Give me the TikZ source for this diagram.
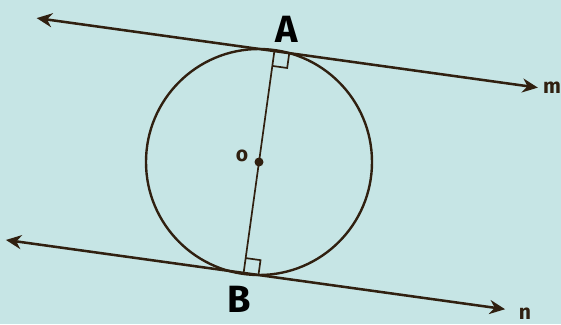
\documentclass[tikz,border=0pt]{standalone}
\usepackage{fontspec}
\setsansfont{Fira Sans}
\usepackage{xcolor}
\definecolor{colBack}{RGB}{198,229,229}
\colorlet{colInk}{black!75!brown}
\usetikzlibrary{arrows.meta, calc}

\begin{document}
\begin{tikzpicture}[x=0.025cm, y=-0.025cm,
		tline/.style={line width=1.8pt, colInk,
			{Stealth[length=11pt, width=10pt]}-{Stealth[length=11pt, width=10pt]}},
		circ/.style={line width=1.7pt, colInk},
		rmark/.style={line width=1.2pt, colInk},
		ptlab/.style={font=\sffamily\bfseries\fontsize{27}{27}\selectfont, text=black},
		lnlab/.style={font=\sffamily\bfseries\fontsize{15}{15}\selectfont, text=colInk},
	]
	% ===== Background and frame =====
	\fill[colBack] (0,0) rectangle (561,324);
	\useasboundingbox (0,0) rectangle (561,324);

	% ===== Circle, centre and diameter =====
	\coordinate (O) at (259,162);
	\coordinate (A) at ($(O)+(-82.1:112)$);
	\coordinate (B) at ($(O)+(97.9:112)$);
	\draw[circ] (O) circle[radius=113];
	\draw[circ, line width=1.2pt] (A) -- (B);
	\fill[colInk] (O) circle[radius=4.5];

	% ===== Tangent lines m and n =====
	\coordinate (mL) at ($(A)+(187.9:240)$);
	\coordinate (mR) at ($(A)+(7.9:266)$);
	\coordinate (nL) at ($(B)+(187.9:240)$);
	\coordinate (nR) at ($(B)+(7.9:264)$);
	\draw[tline] (mL) -- (mR);
	\draw[tline] (nL) -- (nR);

	% right angle marks at the points of contact
	\draw[rmark] ($(A)+(7.9:15)$) -- ++(97.9:15) -- ++(187.9:15);
	\draw[rmark] ($(B)+(7.9:15)$) -- ++(-82.1:15) -- ++(187.9:15);

	% ===== Labels =====
	\node[ptlab] (labA) at (287,29) {A};
	\node[ptlab] (labB) at (239,299) {B};
	\node[lnlab] (labO) at (242,156) {o};
	\node[lnlab] (labM) at (552,88) {m};
	\node[lnlab] (labN) at (525,314) {n};
\end{tikzpicture}
\end{document}
